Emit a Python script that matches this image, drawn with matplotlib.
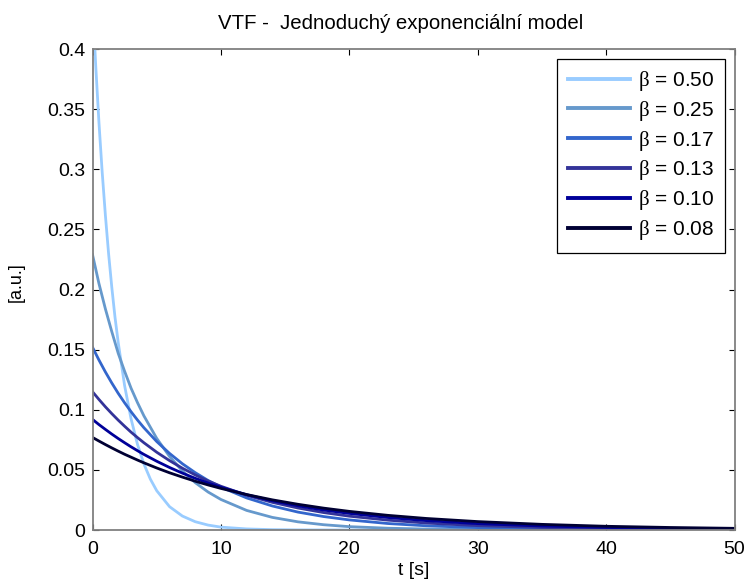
import matplotlib
matplotlib.use('Agg')
import matplotlib.pyplot as plt

plt.rcParams['font.family'] = ['Liberation Sans', 'DejaVu Sans']
plt.rcParams['mathtext.fontset'] = 'custom'
plt.rcParams['mathtext.rm'] = 'Liberation Serif'

# time axis [s]
t = [0, 0.5, 1, 1.5, 2, 2.5, 3, 3.5, 4, 5, 6, 7, 8, 9, 10, 12, 14, 16, 18,
     20, 23, 26, 30, 35, 40, 45, 50]
# the steep beta = 0.50 curve is sampled more densely
t_fast = [0, 0.25, 0.5, 0.75, 1, 1.25, 1.5, 1.75, 2, 2.5, 3, 3.5, 4, 4.5, 5,
          6, 7, 8, 9, 10, 12, 14, 16, 20, 50]

# transport function values for each beta
vtf_050 = [0.440, 0.386, 0.339, 0.298, 0.262, 0.230, 0.202, 0.177, 0.156,
           0.120, 0.0925, 0.0713, 0.0550, 0.0424, 0.0327, 0.0194, 0.0116,
           0.0069, 0.0041, 0.0024, 0.0009, 0.0003, 0.0001, 0.0, 0.0]
vtf_025 = [0.229, 0.205, 0.184, 0.165, 0.147, 0.132, 0.118, 0.106, 0.095,
           0.0762, 0.0612, 0.0491, 0.0394, 0.0316, 0.0254, 0.0163, 0.0105,
           0.0068, 0.0044, 0.0028, 0.0015, 0.0008, 0.0003, 0.0001, 0.0, 0.0, 0.0]
vtf_017 = [0.152, 0.1414, 0.1315, 0.1223, 0.1137, 0.1058, 0.0984, 0.0915,
           0.0851, 0.0736, 0.0637, 0.0551, 0.0477, 0.0412, 0.0357, 0.0267,
           0.0200, 0.0149, 0.0112, 0.0084, 0.0054, 0.0035, 0.0020, 0.0010,
           0.0005, 0.0002, 0.0001]
vtf_013 = [0.115, 0.1086, 0.1025, 0.0968, 0.0914, 0.0863, 0.0814, 0.0769,
           0.0726, 0.0647, 0.0577, 0.0514, 0.0458, 0.0408, 0.0364, 0.0289,
           0.0230, 0.0183, 0.0145, 0.0115, 0.0082, 0.0058, 0.0036, 0.0021,
           0.0012, 0.0007, 0.0004]
vtf_010 = [0.092, 0.0877, 0.0837, 0.0798, 0.0761, 0.0726, 0.0692, 0.0660,
           0.0629, 0.0572, 0.0520, 0.0473, 0.0430, 0.0391, 0.0356, 0.0294,
           0.0243, 0.0201, 0.0166, 0.0138, 0.0104, 0.0078, 0.0053, 0.0033,
           0.0021, 0.0013, 0.0008]
vtf_008 = [0.077, 0.0740, 0.0711, 0.0683, 0.0656, 0.0630, 0.0606, 0.0582,
           0.0559, 0.0516, 0.0476, 0.0440, 0.0406, 0.0375, 0.0346, 0.0295,
           0.0251, 0.0214, 0.0182, 0.0155, 0.0122, 0.0096, 0.0070, 0.0047,
           0.0031, 0.0021, 0.0014]

times = [t_fast, t, t, t, t, t]
series = [vtf_050, vtf_025, vtf_017, vtf_013, vtf_010, vtf_008]
labels = ['0.50', '0.25', '0.17', '0.13', '0.10', '0.08']
colors = ['#99ccff', '#6699cc', '#3366cc', '#333399', '#000099', '#000033']

xticks = [0, 10, 20, 30, 40, 50]
yticks = [0, 0.05, 0.1, 0.15, 0.2, 0.25, 0.3, 0.35, 0.4]
ytick_labels = ['0', '0.05', '0.1', '0.15', '0.2', '0.25', '0.3', '0.35', '0.4']

fig = plt.figure(figsize=(7.48, 5.85), dpi=100)
ax = fig.add_axes([0.1237, 0.094, 0.8583, 0.822])

for x, y, lab, c in zip(times, series, labels, colors):
    ax.plot(x, y, color=c, linewidth=2, label=r'$\mathrm{\beta}$ = ' + lab)

ax.set_xlim(0, 50)
ax.set_ylim(0, 0.4)
ax.set_xticks(xticks)
ax.set_yticks(yticks)
ax.set_yticklabels(ytick_labels)
ax.tick_params(direction='in', top=True, right=True, length=4.3, width=0.8,
               labelsize=14, color='black')
ax.tick_params(axis='x', pad=8)
ax.tick_params(axis='y', pad=5)
for s in ax.spines.values():
    s.set_color('#808080')
    s.set_linewidth(1.3)

ax.set_xlabel('t [s]', fontsize=14, labelpad=3)
ax.set_ylabel('[a.u.]', fontsize=13)
ax.yaxis.set_label_coords(-0.105, 0.515)

fig.text(218 / 748, 1 - 29 / 585, 'VTF -  Jednoduchý exponenciální model',
         fontsize=14.7, va='baseline', ha='left')

leg = ax.legend(loc='upper right', fontsize=15, handlelength=3.0,
                labelspacing=0.28, borderaxespad=0.45, handletextpad=0.4,
                fancybox=False, framealpha=1, borderpad=0.5)
leg.get_frame().set_edgecolor('black')
leg.get_frame().set_linewidth(0.9)
for h in leg.get_lines():
    h.set_linewidth(2.8)

fig.savefig('out.png', dpi=100)
